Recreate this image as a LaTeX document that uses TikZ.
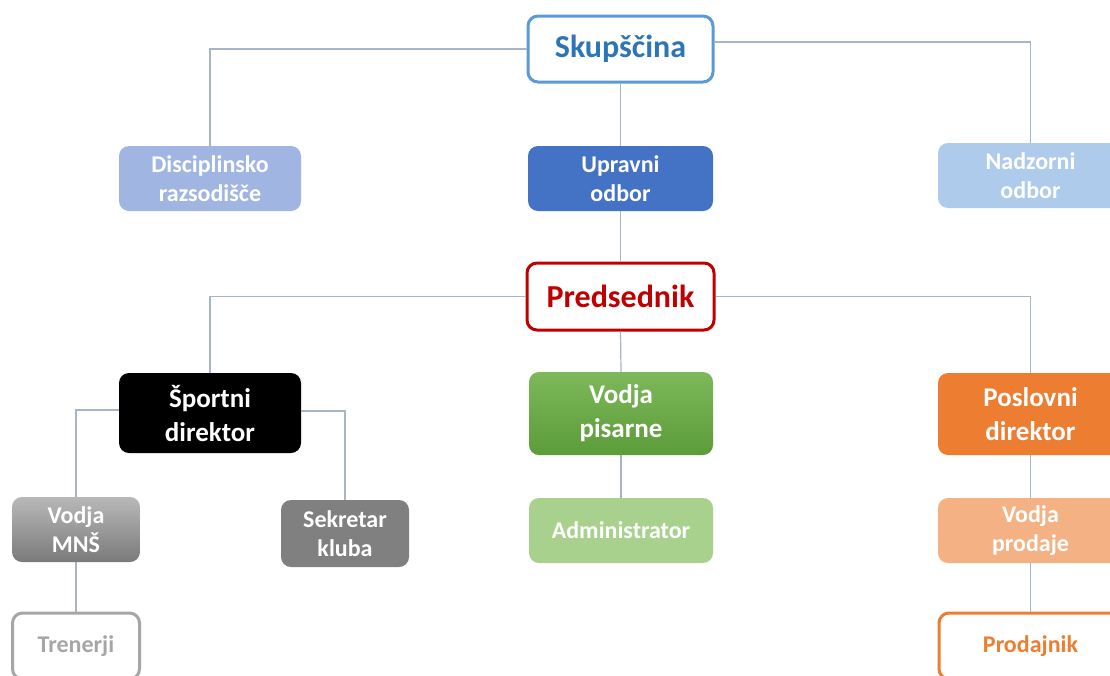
\documentclass[tikz,border=0pt]{standalone}
\usepackage{fontspec}
\setmainfont{Carlito}
\definecolor{conncol}{HTML}{A7B5C9}
\definecolor{skblue}{HTML}{5B9BD5}
\definecolor{sktext}{HTML}{2E75B6}
\definecolor{drfill}{HTML}{A0B5E2}
\definecolor{uofill}{HTML}{4472C4}
\definecolor{nofill}{HTML}{AECBEB}
\definecolor{prred}{HTML}{C00000}
\definecolor{vptop}{HTML}{7DB85A}
\definecolor{vpbot}{HTML}{5C9C39}
\definecolor{pdfill}{HTML}{ED7D31}
\definecolor{mnstop}{HTML}{B8B8B8}
\definecolor{mnsbot}{HTML}{7A7A7A}
\definecolor{sekfill}{HTML}{808080}
\definecolor{admfill}{HTML}{A9D18E}
\definecolor{vprfill}{HTML}{F4B183}
\definecolor{trgray}{HTML}{A6A6A6}
\begin{document}
\begin{tikzpicture}[x=1pt,y=-1pt,
  box/.style={rounded corners=10pt, align=center, inner sep=0pt, font=\bfseries\fontsize{24}{29}\selectfont, text=white},
  bigbox/.style={box, font=\bfseries\fontsize{27}{34}\selectfont},
  topbox/.style={box, fill=white, line width=3pt, font=\bfseries\fontsize{32}{38}\selectfont},
  conn/.style={draw=conncol, line width=1.2pt}]
\useasboundingbox (0,0) rectangle (1110,675);
\fill[white] (0,0) rectangle (1110,675);
% nodes
\node[topbox, draw=skblue, text=sktext, minimum width=185pt, minimum height=66pt] (sk) at (620.5,49) {Skupščina};
\node[box, fill=drfill, minimum width=182pt, minimum height=65pt] (dr) at (210,178.5) {Disciplinsko\\razsodišče};
\node[box, fill=uofill, minimum width=185pt, minimum height=65pt] (uo) at (620.5,178.5) {Upravni\\odbor};
\node[box, fill=nofill, minimum width=185pt, minimum height=65pt] (no) at (1030.5,175.5) {Nadzorni\\odbor};
\node[topbox, draw=prred, text=prred, minimum width=187pt, minimum height=67pt] (pr) at (620.5,296.5) {Predsednik};
\node[bigbox, fill=black, minimum width=182pt, minimum height=80pt] (sd) at (210,413) {Športni\\direktor};
\node[bigbox, top color=vptop, bottom color=vpbot, minimum width=184pt, minimum height=83pt] (vp) at (621,413.5) {Vodja\\pisarne};
\node[bigbox, fill=pdfill, minimum width=185pt, minimum height=82pt] (pd) at (1030.5,414) {Poslovni\\direktor};
\node[box, top color=mnstop, bottom color=mnsbot, minimum width=128pt, minimum height=65pt] (mns) at (76,529.5) {Vodja\\MNŠ};
\node[box, fill=sekfill, minimum width=128pt, minimum height=67pt] (sek) at (345,533.5) {Sekretar\\kluba};
\node[box, fill=admfill, minimum width=184pt, minimum height=65pt] (adm) at (621,530.5) {Administrator};
\node[box, fill=vprfill, minimum width=185pt, minimum height=65pt] (vpr) at (1030.5,530.5) {Vodja\\prodaje};
\node[box, draw=trgray, line width=3pt, fill=white, text=trgray, minimum width=127pt, minimum height=66pt] (tr) at (76,646) {Trenerji};
\node[box, draw=pdfill, line width=3pt, fill=white, text=pdfill, minimum width=183pt, minimum height=66pt] (pro) at (1030.5,646) {Prodajnik};
% connectors
\draw[conn] (sk.west) -| (dr.north);
\draw[conn] ([yshift=7pt]sk.east) -| (no.north);
\draw[conn] (sk.south) -- (uo.north);
\draw[conn] (uo.south) -- (pr.north);
\draw[conn] (pr.west) -| (sd.north);
\draw[conn] (pr.east) -| (pd.north);
\draw[conn] (pr.south) -- (vp.north);
\draw[conn] (vp.south) -- (adm.north);
\draw[conn] ([yshift=3pt]sd.west) -| (mns.north);
\draw[conn] ([yshift=2pt]sd.east) -| (sek.north);
\draw[conn] (mns.south) -- (tr.north);
\draw[conn] (pd.south) -- (vpr.north);
\draw[conn] (vpr.south) -- (pro.north);
\end{tikzpicture}
\end{document}
